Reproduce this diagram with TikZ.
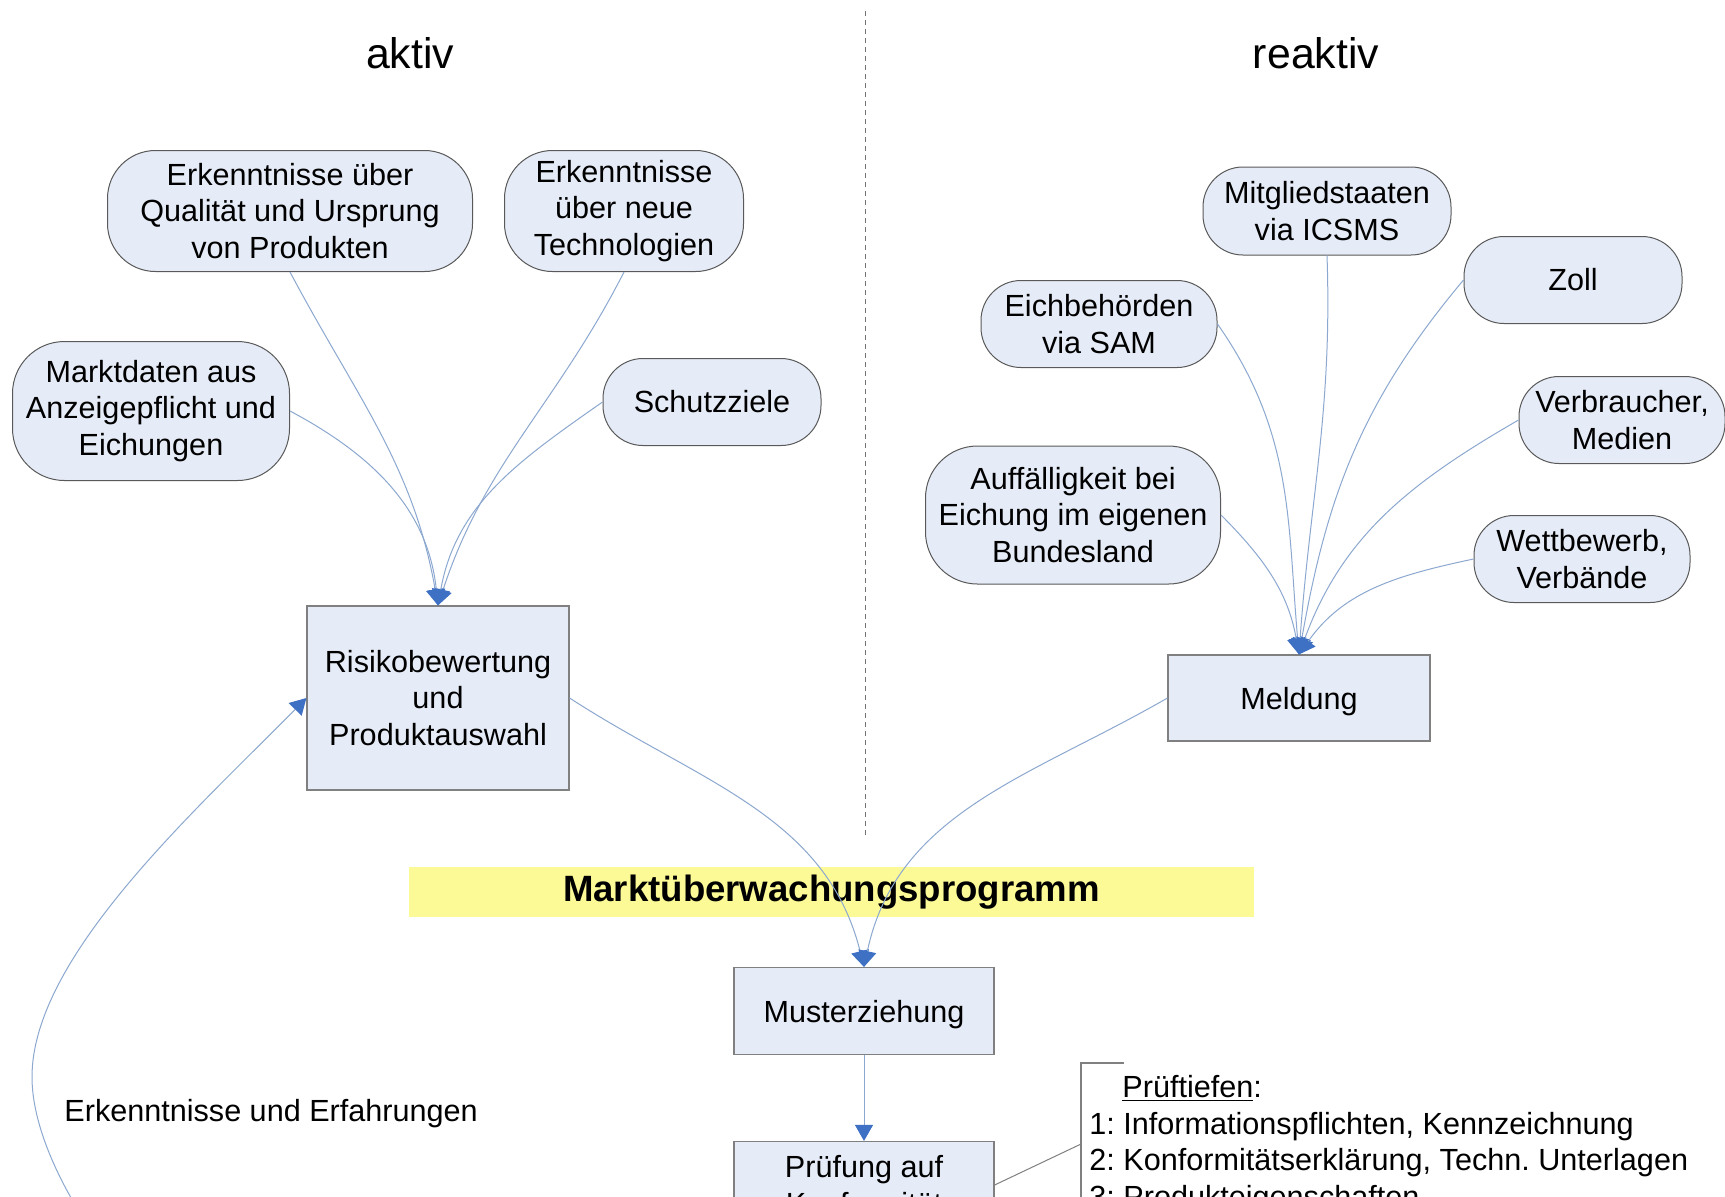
\documentclass[tikz,border=0pt]{standalone}
\usepackage{fontspec}
\setmainfont{Liberation Sans}
\usetikzlibrary{arrows.meta}
\definecolor{boxfill}{RGB}{230,236,247}
\definecolor{linkblue}{RGB}{140,168,208}
\definecolor{headblue}{RGB}{62,112,196}
\definecolor{bandyellow}{RGB}{252,250,150}
\newcommand\nodefont{\fontsize{15.3pt}{18.4pt}\selectfont}
\frenchspacing

\begin{document}
\begin{tikzpicture}[x=0.5pt,y=0.5pt,
  bubble/.style={draw=black!65, fill=boxfill, rounded corners=20pt, align=center,
                 inner sep=0pt, line width=0.5pt, font=\nodefont},
  proc/.style={draw=black!50, fill=boxfill, align=center, inner sep=0pt,
               line width=0.6pt, font=\nodefont},
  flow/.style={draw=linkblue, line width=0.5pt,
               -{Triangle[length=8pt,width=9pt,color=headblue]}},
  heading/.style={font=\fontsize{21.4pt}{25pt}\selectfont, inner sep=0pt, anchor=base},
  note/.style={font=\nodefont, inner sep=0pt, anchor=base west},
  bracket/.style={draw=black!50, line width=0.6pt},
]
\useasboundingbox (0,0) rectangle (1725,-1196);
\clip (0,0) rectangle (1725,-1196);
\fill[white] (0,0) rectangle (1725,-1196);

% column headings and divider
\node[heading] (hAktiv) at (410,-68) {aktiv};
\node[heading] (hReaktiv) at (1316,-68) {reaktiv};
\coordinate (divtop) at (865,-11);
\coordinate (divbot) at (865,-838);
\draw[black!55, line width=0.4pt, dash pattern=on 2.5pt off 2pt] (divtop) -- (divbot);

% programme band
\node[fill=bandyellow, minimum width=422.5pt, minimum height=25pt, inner sep=0pt,
      font=\bfseries\fontsize{18.3pt}{22pt}\selectfont] (band) at (831.5,-892)
      {Marktüberwachungsprogramm};

% active sources
\node[bubble, rounded corners=24pt, minimum width=182.5pt, minimum height=60.5pt] (qual) at (290,-211)
  {Erkenntnisse über\\Qualität und Ursprung\\von Produkten};
\node[bubble, rounded corners=24pt, minimum width=119.5pt, minimum height=60.5pt] (tech) at (624,-211)
  {Erkenntnisse\\über neue\\Technologien};
\node[bubble, rounded corners=26pt, minimum width=138.5pt, minimum height=69.5pt] (markt) at (151,-411)
  {Marktdaten aus\\Anzeigepflicht und\\Eichungen};
\node[bubble, minimum width=109pt, minimum height=43.5pt] (schutz) at (712,-402) {Schutzziele};
\node[proc, minimum width=131pt, minimum height=92pt] (risk) at (438,-698)
  {Risikobewertung\\und\\Produktauswahl};

% reactive sources
\node[bubble, minimum width=124pt, minimum height=44pt] (mitg) at (1327,-211)
  {Mitgliedstaaten\\via ICSMS};
\node[bubble, minimum width=109pt, minimum height=43.5pt] (zoll) at (1573,-280) {Zoll};
\node[bubble, minimum width=118pt, minimum height=43.5pt] (eich) at (1099,-324)
  {Eichbehörden\\via SAM};
\node[bubble, minimum width=103pt, minimum height=43.5pt] (verb) at (1622,-420)
  {Verbraucher,\\Medien};
\node[bubble, rounded corners=26pt, minimum width=147.5pt, minimum height=69pt] (auff) at (1073,-515)
  {Auffälligkeit bei\\Eichung im eigenen\\Bundesland};
\node[bubble, minimum width=108pt, minimum height=43.5pt] (wett) at (1582,-559)
  {Wettbewerb,\\Verbände};
\node[proc, minimum width=131pt, minimum height=43pt, text depth=0pt] (meld) at (1299,-698) {Meldung};

% process chain
\node[proc, minimum width=130pt, minimum height=43.5pt, text depth=0pt] (must) at (864,-1011) {Musterziehung};
\node[proc, minimum width=130pt, minimum height=43.5pt] (pruef) at (864,-1185)
  {Prüfung auf\\Konformität};

% inputs to the risk assessment
\draw[flow] (qual.south) to[out=-62, in=100] (risk.north);
\draw[flow] (tech.south) to[out=-117, in=72] (risk.north);
\draw[flow] (markt.east) to[out=-28, in=96] (risk.north);
\draw[flow] (schutz.west) to[out=-145, in=80] (risk.north);

% inputs to the notification
\draw[flow] (mitg.south) to[out=-88, in=86] (meld.north);
\draw[flow] (zoll.west) to[out=-130, in=80] (meld.north);
\draw[flow] (eich.east) to[out=-55, in=95] (meld.north);
\draw[flow] (verb.west) to[out=-150, in=70] (meld.north);
\draw[flow] (auff.east) to[out=-45, in=100] (meld.north);
\draw[flow] (wett.west) to[out=-168, in=55] (meld.north);

% into sampling and testing
\draw[flow] (risk.east) to[out=-33, in=104] (must.north);
\draw[flow] (meld.west) to[out=-150, in=78] (must.north);
\draw[flow] (must.south) -- (pruef.north);

% feedback loop
\coordinate (fbstart) at (140,-1290);
\draw[flow] (fbstart) .. controls (90,-1240) and (32,-1147) .. (32,-1077)
  .. controls (32,-957) and (195,-811) .. (risk.west);
\node[note] (fblabel) at (64,-1121) {Erkenntnisse und Erfahrungen};

% test depth annotation
\coordinate (brtop) at (1124,-1063);
\coordinate (brcorner) at (1081,-1063);
\coordinate (brbot) at (1081,-1230);
\coordinate (brjoin) at (1081,-1144);
\draw[bracket] (brtop) -- (brcorner) -- (brbot);
\draw[bracket, line width=0.5pt] (pruef.east) -- (brjoin);
\node[note] (pt0) at (1122,-1097) {\underline{Prüftiefen}:};
\node[note] (pt1) at (1089,-1134) {1: Informationspflichten, Kennzeichnung};
\node[note] (pt2) at (1089,-1170) {2: Konformitätserklärung, Techn. Unterlagen};
\node[note] (pt3) at (1089,-1207) {3: Produkteigenschaften};
\end{tikzpicture}
\end{document}
